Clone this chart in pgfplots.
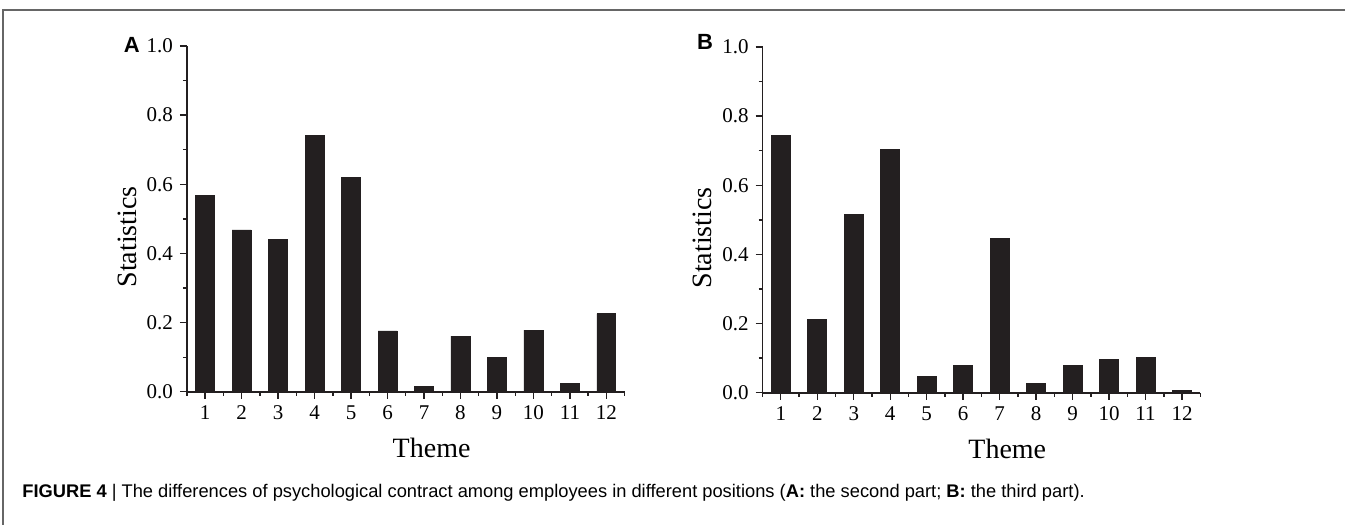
\documentclass[border=0pt]{standalone}
\usepackage{pgfplots}
\pgfplotsset{compat=1.18}
\usepackage{fontspec}
\setmainfont{Liberation Serif}
\newfontfamily\capfont{Liberation Sans}
\definecolor{barblack}{HTML}{231F20}

\pgfplotsset{
  themebars/.style={
    scale only axis,
    width=219pt, height=173pt,
    anchor=south west,
    axis lines*=left,
    axis line style={line width=0.8pt, barblack},
    xmin=0.5, xmax=12.5, ymin=0, ymax=1.0,
    xtick={1,...,12},
    minor xtick={0.5,1.5,...,12.5},
    ytick={0,0.2,0.4,0.6,0.8,1.0},
    minor ytick={0.1,0.3,0.5,0.7,0.9},
    tick align=outside,
    major tick length=3.5pt,
    minor tick length=2pt,
    every tick/.style={line width=0.7pt, barblack},
    /pgf/number format/assume math mode=true,
    yticklabel style={/pgf/number format/.cd, fixed, fixed zerofill, precision=1},
    ticklabel style={font=\fontsize{10.5}{12}\selectfont},
    ybar, bar width=0.52,
    xlabel={Theme}, ylabel={Statistics},
    label style={font=\fontsize{14}{16}\selectfont},
    xlabel style={at={(axis description cs:0.559,-0.162)}, anchor=center},
    ylabel style={at={(axis description cs:-0.137,0.448)}, anchor=center, rotate=0},
  }
}

\begin{document}
\begin{tikzpicture}
\path (0,0) rectangle (673pt,-262.5pt);
\draw[gray!80!black, line width=0.8pt] (673pt,-5pt) -- (1.5pt,-5pt) -- (1.5pt,-262.5pt);

\begin{axis}[themebars, at={(93.5pt,-196pt)}]
\addplot[fill=barblack, draw=barblack] coordinates {
(1,0.568) (2,0.468) (3,0.440) (4,0.742) (5,0.619) (6,0.176)
(7,0.016) (8,0.161) (9,0.098) (10,0.178) (11,0.023) (12,0.226)
};
\end{axis}

\begin{axis}[themebars, at={(381.5pt,-196.5pt)}]
\addplot[fill=barblack, draw=barblack] coordinates {
(1,0.745) (2,0.212) (3,0.516) (4,0.703) (5,0.048) (6,0.079)
(7,0.447) (8,0.027) (9,0.078) (10,0.096) (11,0.102) (12,0.008)
};
\end{axis}

\node[font=\capfont\bfseries\fontsize{11}{12}\selectfont, inner sep=0pt] at (66pt,-22.25pt) {A};
\node[font=\capfont\bfseries\fontsize{11}{12}\selectfont, inner sep=0pt] at (352.75pt,-20.75pt) {B};

\node[anchor=base west, font=\capfont\fontsize{9.15}{10}\selectfont, inner sep=0pt]
  at (11pt,-249pt) {\textbf{FIGURE 4} | The differences of psychological contract among employees in different positions (\textbf{A:} the second part; \textbf{B:} the third part).};
\end{tikzpicture}
\end{document}
